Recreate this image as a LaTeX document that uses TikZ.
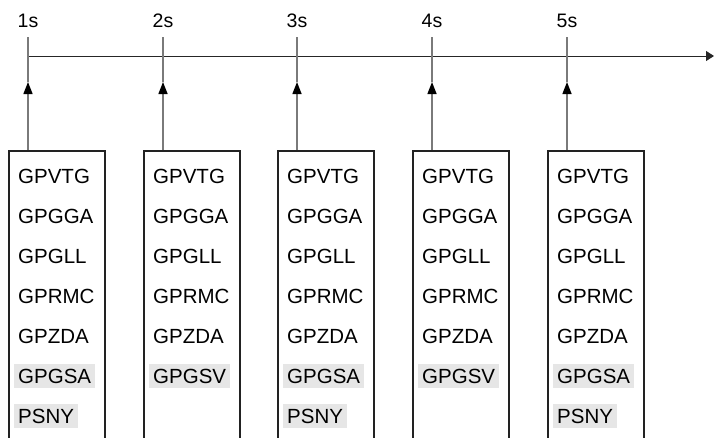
\documentclass[tikz,border=0pt]{standalone}
\usepackage{fontspec}
\setmainfont{Liberation Sans}
\usetikzlibrary{arrows.meta}
\definecolor{boxline}{HTML}{222222}
\definecolor{tickgray}{HTML}{7A7A7A}
\definecolor{hl}{HTML}{E6E6E6}
\begin{document}
\begin{tikzpicture}[x=1pt,y=-1pt,
  axisline/.style={draw=black!85,line width=1pt},
  tickline/.style={draw=tickgray,line width=1.4pt},
  upmark/.style={tickline,-{Triangle[length=12pt,width=9pt,color=black]}},
  boxframe/.style={draw=boxline,line width=2pt},
  secondlabel/.style={font=\fontsize{19.5pt}{22pt}\selectfont,inner sep=0pt,text height=14pt,text depth=0pt},
  msg/.style={font=\fontsize{20.5pt}{24pt}\selectfont,anchor=west,inner xsep=4pt,inner ysep=4.6pt,text height=14.7pt,text depth=0pt},
  msghl/.style={msg,fill=hl}]
\useasboundingbox (0,0) rectangle (714,437);
\coordinate (a0) at (28,56);
\coordinate (aend) at (714,56);
\draw[axisline,-{Triangle[length=8pt,width=10pt]}] (a0) -- (aend);
\foreach \i/\x/\s/\six in {1/28/1s/GPGSA,2/163/2s/GPGSV,3/297/3s/GPGSA,4/432/4s/GPGSV,5/567/5s/GPGSA}{
  \node[secondlabel] (lab\i) at (\x,20) {\s};
  \coordinate (top\i) at (\x,37);
  \coordinate (mid\i) at (\x,82);
  \coordinate (b\i) at (\x,151);
  \draw[tickline] (top\i) -- (mid\i);
  \draw[upmark] (b\i) -- (mid\i);
  \draw[boxframe] (\x-19,438) -- (\x-19,151) -- (\x+77,151) -- (\x+77,438);
  \node[msg] (m\i a) at (\x-14,176) {GPVTG};
  \node[msg] (m\i b) at (\x-14,216) {GPGGA};
  \node[msg] (m\i c) at (\x-14,256) {GPGLL};
  \node[msg] (m\i d) at (\x-14,296) {GPRMC};
  \node[msg] (m\i e) at (\x-14,336) {GPZDA};
  \node[msghl] (m\i f) at (\x-14,376) {\six};
}
\foreach \i/\x in {1/28,3/297,5/567}{
  \node[msghl] (m\i g) at (\x-14,416) {PSNY};
}
\end{tikzpicture}
\end{document}
